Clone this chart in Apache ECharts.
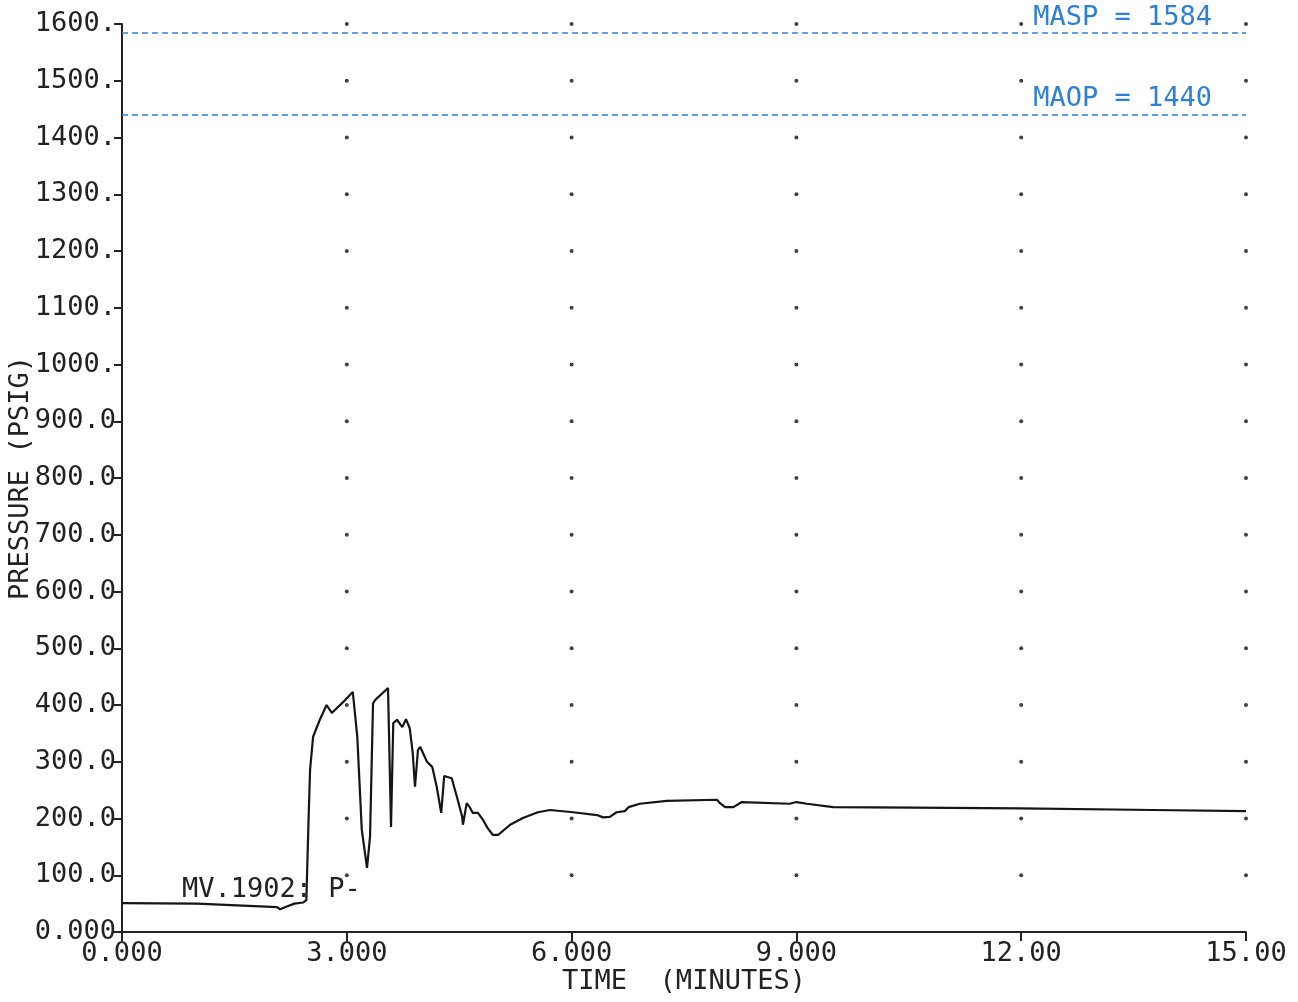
<!DOCTYPE html>
<html>
<head>
<meta charset="utf-8">
<script src="https://cdn.jsdelivr.net/npm/echarts@6/dist/echarts.min.js"></script>
<style>
html,body{margin:0;padding:0;background:#ffffff;}
#chart{width:1298px;height:1002px;}
</style>
</head>
<body>
<div id="chart"></div>
<script>
// ---- data ----
const timeMin = [0, 1.0, 2.07, 2.11, 2.2, 2.3, 2.42, 2.46, 2.49, 2.51, 2.55, 2.64, 2.73, 2.80, 2.95, 3.08,
  3.14, 3.20, 3.27, 3.31, 3.35, 3.38, 3.55, 3.59, 3.62, 3.67, 3.74, 3.79, 3.84, 3.88, 3.91, 3.95, 3.98,
  4.07, 4.14, 4.20, 4.26, 4.30, 4.40, 4.47, 4.54, 4.55, 4.60, 4.64, 4.68, 4.75, 4.82, 4.88, 4.95, 5.02,
  5.18, 5.35, 5.55, 5.71, 6.02, 6.34, 6.42, 6.51, 6.60, 6.71, 6.76, 6.91, 7.27, 7.94, 7.98, 8.05, 8.16,
  8.27, 8.91, 9.00, 9.14, 9.49, 10.56, 11.98, 13.76, 15.0];
const pressure = [51, 50, 44, 40, 45, 50, 52, 56, 200, 286, 344, 374, 400, 386, 405, 423,
  344, 180, 113, 168, 403, 409, 430, 185, 368, 374, 361, 375, 359, 315, 256, 321, 326,
  300, 291, 256, 210, 275, 271, 238, 203, 189, 227, 220, 210, 210, 197, 183, 171, 171,
  189, 201, 211, 215, 211, 206, 202, 203, 211, 213, 220, 226, 231, 233, 227, 220, 220,
  229, 226, 229, 226, 220, 219, 218, 215, 213];
const seriesName = 'MV.1902: P-';
const xTickValues = [0, 3, 6, 9, 12, 15];
const xTickLabels = ['0.000', '3.000', '6.000', '9.000', '12.00', '15.00'];
const yTickValues = [0, 100, 200, 300, 400, 500, 600, 700, 800, 900, 1000, 1100, 1200, 1300, 1400, 1500, 1600];
const yTickLabels = ['0.000', '100.0', '200.0', '300.0', '400.0', '500.0', '600.0', '700.0', '800.0', '900.0',
  '1000.', '1100.', '1200.', '1300.', '1400.', '1500.', '1600.'];
const limitNames = ['MASP', 'MAOP'];
const limitValues = [1584, 1440];

// ---- build ----
const FONT = 'DejaVu Sans Mono';
const FS = 27;
const lineData = timeMin.map((t, i) => [t, pressure[i]]);
const dotData = [];
xTickValues.slice(1).forEach(x => yTickValues.slice(1).forEach(y => dotData.push([x, y])));

const chart = echarts.init(document.getElementById('chart'), null, {renderer: 'canvas'});
chart.setOption({
  backgroundColor: '#ffffff',
  animation: false,
  grid: {left: 122, right: 52, top: 24, bottom: 70, containLabel: false, outerBoundsMode: 'none'},
  xAxis: {
    type: 'value', min: 0, max: 15, interval: 3,
    name: 'TIME  (MINUTES)', nameLocation: 'middle', nameGap: 36, nameMoveOverlap: false,
    nameTextStyle: {fontFamily: FONT, fontSize: FS, color: '#222'},
    axisLine: {show: true, lineStyle: {color: '#222', width: 2}},
    axisTick: {show: true, length: 9, lineStyle: {color: '#222', width: 2}},
    axisLabel: {
      margin: 8, fontFamily: FONT, fontSize: FS, color: '#222',
      formatter: v => xTickLabels[xTickValues.indexOf(v)] || ''
    },
    splitLine: {show: false}
  },
  yAxis: {
    type: 'value', min: 0, max: 1600, interval: 100,
    name: 'PRESSURE (PSIG)', nameLocation: 'middle', nameGap: 88, nameRotate: 90, nameMoveOverlap: false,
    nameTextStyle: {fontFamily: FONT, fontSize: FS, color: '#222'},
    axisLine: {show: true, lineStyle: {color: '#222', width: 2}},
    axisTick: {show: true, length: 8, lineStyle: {color: '#222', width: 2}},
    axisLabel: {
      margin: 6, fontFamily: FONT, fontSize: FS, color: '#222',
      formatter: v => yTickLabels[yTickValues.indexOf(v)] || ''
    },
    splitLine: {show: false}
  },
  series: [
    {
      type: 'scatter', data: dotData, symbol: 'circle', symbolSize: 4,
      itemStyle: {color: '#111'}, silent: true, z: 1
    },
    {
      type: 'line', name: seriesName, data: lineData, showSymbol: false, symbol: 'none',
      lineStyle: {color: '#151515', width: 2.2}, z: 3,
      markPoint: {
        symbol: 'circle', symbolSize: 0, silent: true,
        data: [{coord: [0.8, 74], value: seriesName}],
        label: {
          show: true, position: 'inside', align: 'left', verticalAlign: 'middle',
          formatter: seriesName, fontFamily: FONT, fontSize: FS, color: '#222'
        }
      },
      markLine: {
        silent: true, symbol: 'none',
        lineStyle: {color: '#2f7fd6', width: 1.6, type: [6, 4]},
        label: {
          show: true, position: 'insideEndTop', distance: [34, 2],
          fontFamily: FONT, fontSize: FS, color: '#2f7fd6',
          formatter: p => limitNames[limitValues.indexOf(p.value)] + ' = ' + p.value
        },
        data: limitValues.map(v => ({yAxis: v}))
      }
    }
  ]
});
</script>
</body>
</html>
